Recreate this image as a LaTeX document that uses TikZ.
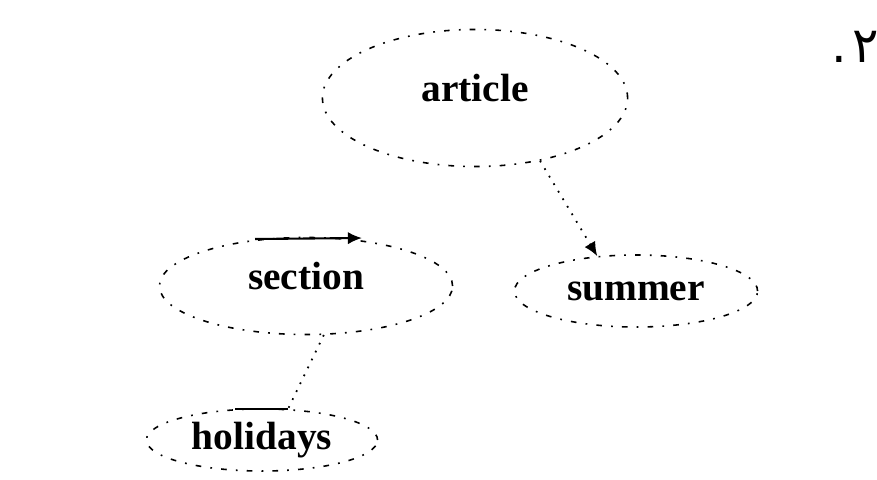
\documentclass[tikz,border=0pt]{standalone}
\usepackage{fontspec}
\setmainfont{Liberation Serif}
\newfontfamily\arabicfont[Script=Arabic]{DejaVu Sans}
\TeXXeTstate=1
\usetikzlibrary{shapes.geometric,arrows.meta}
\begin{document}
\begin{tikzpicture}[x=0.01cm,y=-0.01cm,
  treenode/.style={ellipse,draw=black,line width=0.45pt,
    dash pattern=on 1.6pt off 2.6pt on 0.5pt off 2.6pt,
    inner sep=0pt,font=\fontsize{11.2}{13}\selectfont\bfseries},
  raised/.style={text height=0.27cm,text depth=0.2cm},
  edgeline/.style={line width=0.5pt,dotted},
  solidbit/.style={line width=0.6pt},
  tip/.style={-{Latex[length=4pt,width=3.5pt]}}]
\useasboundingbox (0,0) rectangle (877,479);
\node[treenode,raised,minimum width=3.05cm,minimum height=1.37cm] (article) at (475,98) {article};
\node[treenode,raised,minimum width=2.93cm,minimum height=0.97cm] (section) at (306,286) {section};
\node[treenode,minimum width=2.43cm,minimum height=0.72cm] (summer) at (636,291) {summer};
\node[treenode,minimum width=2.31cm,minimum height=0.62cm] (holidays) at (262,440) {holidays};
\draw[edgeline,tip] (article.-44) -- (summer.138);
\draw[edgeline] (section.-70) -- (holidays.50);
\draw[solidbit] (holidays.50) -- ++(-53,0);
\coordinate (secA) at (255,239);
\coordinate (secB) at (362,238);
\draw[solidbit,tip] (secA) -- (secB);
\node[anchor=base east,inner sep=0pt,font=\fontsize{14}{16}\selectfont] (num) at (880,63) {\arabicfont\beginR ٢\kern1.5pt.\endR};
\end{tikzpicture}
\end{document}
